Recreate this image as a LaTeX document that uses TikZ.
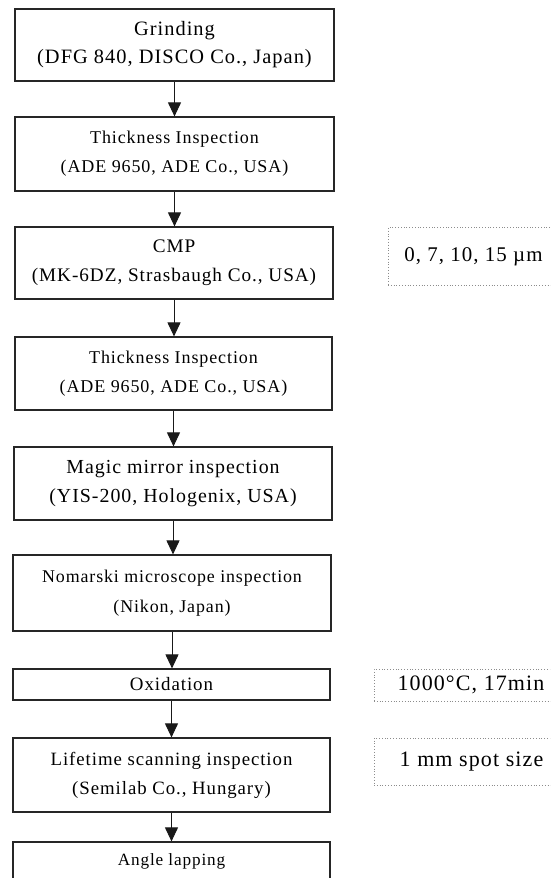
\documentclass[tikz,border=0pt]{standalone}
\usepackage{fontspec}
\setmainfont{Liberation Serif}[LetterSpace=5]
\usetikzlibrary{arrows.meta}
\newcommand{\fs}[2]{\fontsize{#1}{#2}\selectfont}
\begin{document}
\begin{tikzpicture}[x=1pt,y=-1pt,
  box/.style={draw=black!85, line width=1.2pt, align=center, inner sep=0pt,
              minimum width=318pt},
  note/.style={draw=black!45, dotted, line width=0.8pt, inner sep=0pt,
               align=center},
  flow/.style={-{Triangle[length=14pt,width=13pt]}, line width=1pt, draw=black!90}]
\useasboundingbox (0,0) rectangle (550,878);
\clip (0,0) rectangle (550,878);
\node[box, minimum width=319pt, minimum height=72pt, font=\fs{20.4}{28}] (b1) at (174.5,45)
  {Grinding\\(DFG 840, DISCO Co., Japan)};
\node[box, minimum width=319pt, minimum height=74pt, font=\fs{18}{29}] (b2) at (174.5,154)
  {Thickness Inspection\\(ADE 9650, ADE Co., USA)};
\node[box, minimum height=72pt, font=\fs{19.2}{29}] (b3) at (174,263)
  {CMP\\(MK-6DZ, Strasbaugh Co., USA)};
\node[box, minimum width=317pt, minimum height=73pt, font=\fs{18}{29}] (b4) at (173.5,373.5)
  {Thickness Inspection\\(ADE 9650, ADE Co., USA)};
\node[box, minimum height=73pt, font=\fs{19.9}{29}] (b5) at (173,483.5)
  {Magic mirror inspection\\(YIS-200, Hologenix, USA)};
\node[box, minimum height=76pt, font=\fs{17.9}{30}] (b6) at (172,593)
  {Nomarski microscope inspection\\(Nikon, Japan)};
\node[box, minimum width=317pt, minimum height=31pt, font=\fs{18.9}{24}] (b7) at (171.5,684.5)
  {Oxidation};
\node[box, minimum width=317pt, minimum height=74pt, font=\fs{18.8}{29}] (b8) at (171.5,775)
  {Lifetime scanning inspection\\(Semilab Co., Hungary)};
\node[box, minimum width=317pt, minimum height=38pt, font=\fs{17.2}{24}] (b9) at (171.5,861)
  {Angle lapping};
\draw[flow] (b1.south) -- (b1.south |- b2.north);
\draw[flow] (b2.south) -- (b2.south |- b3.north);
\draw[flow] (b3.south) -- (b3.south |- b4.north);
\draw[flow] (b4.south) -- (b4.south |- b5.north);
\draw[flow] (b5.south) -- (b5.south |- b6.north);
\draw[flow] (b6.south) -- (b6.south |- b7.north);
\draw[flow] (b7.south) -- (b7.south |- b8.north);
\draw[flow] (b8.south) -- (b8.south |- b9.north);
\node[note, minimum width=171pt, minimum height=58pt, font=\fs{20.9}{24}] (n1) at (473.5,256.5)
  {0, 7, 10, 15 µm};
\node[note, minimum width=194pt, minimum height=32pt, font=\fs{22}{24}] (n2) at (471,685)
  {1000°C, 17min};
\node[note, minimum width=195pt, minimum height=47pt, font=\fs{22}{24}] (n3) at (471.5,761.5)
  {1 mm spot size};
\end{tikzpicture}
\end{document}
